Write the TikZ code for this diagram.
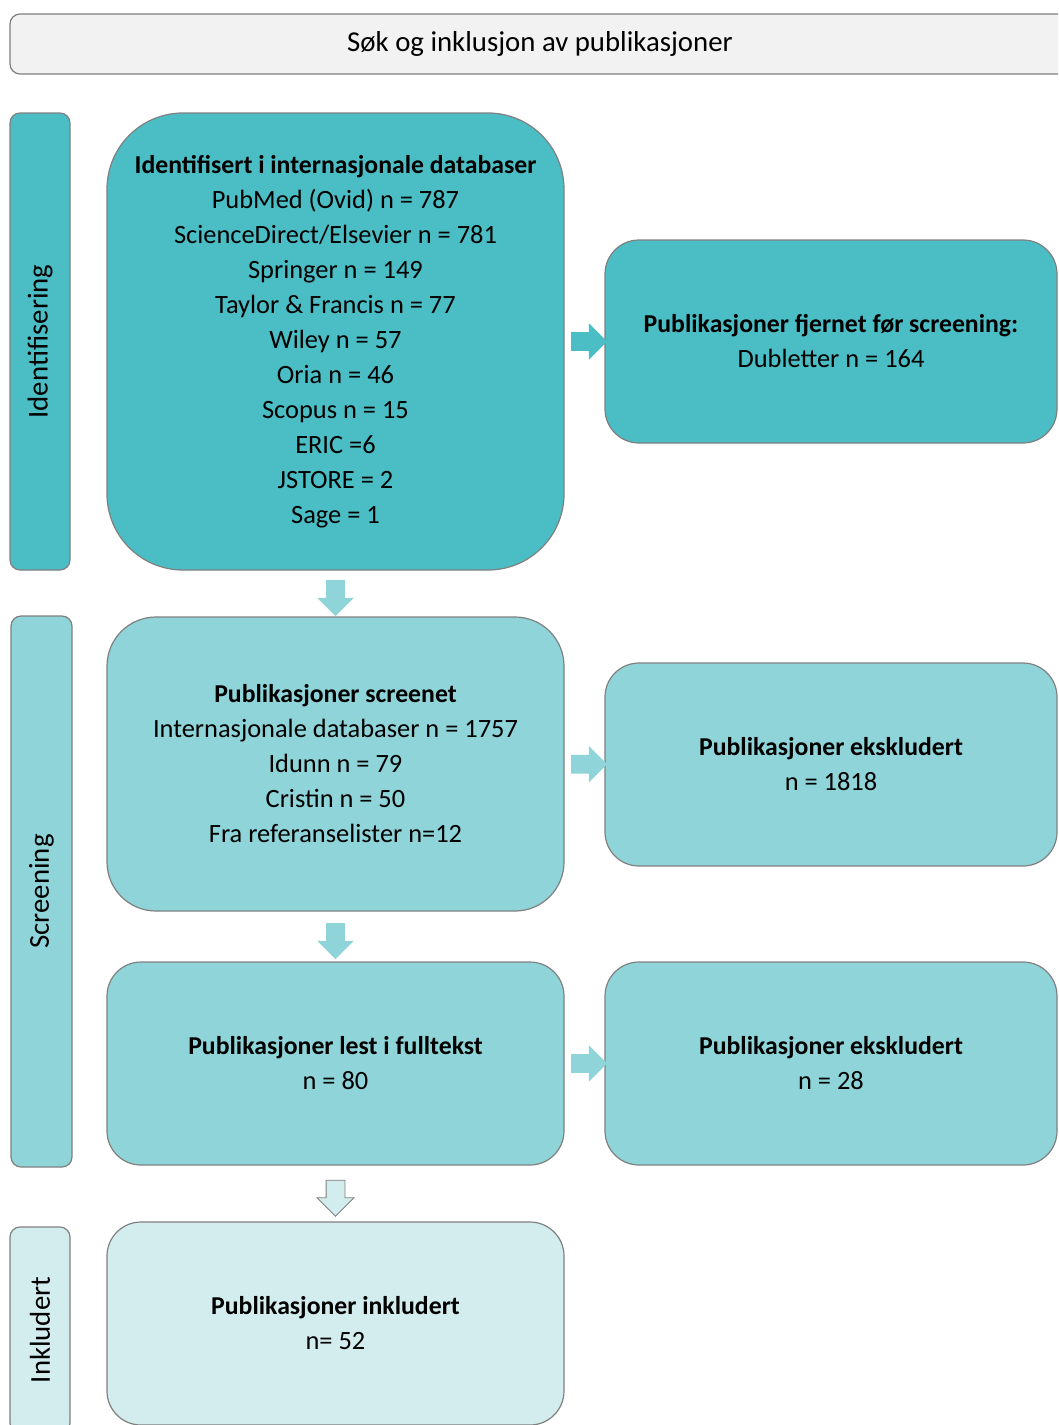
\documentclass[tikz,border=0pt]{standalone}
\usepackage{fontspec}
\setmainfont{Carlito}
\usepackage{tikz}
\usepackage{xcolor}
\usetikzlibrary{shapes.arrows,calc}

\definecolor{tealA}{RGB}{75,189,196}
\definecolor{tealB}{RGB}{142,212,216}
\definecolor{tealC}{RGB}{211,236,237}
\definecolor{headgray}{RGB}{242,242,242}
\definecolor{edgegray}{RGB}{128,128,128}

\newcommand{\tittelfont}[1]{{\fontsize{19.3}{26.25}\selectfont\bfseries #1}}

\tikzset{
	boks/.style={draw=edgegray, line width=0.9pt, align=center, inner sep=0pt, font=\fontsize{19.8}{26.25}\selectfont},
	sideboks/.style={boks, rotate=90, rounded corners=7.5pt, font=\fontsize{21.6}{26.25}\selectfont},
	pilh/.style={single arrow, inner sep=6.75pt, single arrow head extend=6.75pt, minimum height=27pt},
	pilned/.style={pilh, shape border rotate=270},
}

\begin{document}
\begin{tikzpicture}[x=0.75pt,y=0.75pt,yscale=-1,xscale=1]
				\useasboundingbox (0,0) rectangle (1058,1425);
				\clip (0,0) rectangle (1058,1425);
				% overskrift
				\draw (540,44) node [boks, fill=headgray, rounded corners=7.5pt, minimum width=795pt, minimum height=45pt, font=\fontsize{21.6}{26.25}\selectfont] (tittel) {Søk og inklusjon av publikasjoner};
				% faser
				\draw (40,341.5) node [sideboks, fill=tealA, minimum width=342.75pt, minimum height=45pt] (fase1) {Identifisering};
				\draw (41.5,891.5) node [sideboks, fill=tealB, minimum width=413.25pt, minimum height=45.75pt] (fase2) {Screening};
				\draw (40,1330) node [sideboks, fill=tealC, minimum width=154.5pt, minimum height=45pt] (fase3) {Inkludert};
				% bokser
				\draw (335.5,341.5) node [boks, fill=tealA, rounded corners=57pt, minimum width=342.75pt, minimum height=342.75pt] (ident) {\tittelfont{Identifisert i internasjonale databaser}\\PubMed (Ovid) n = 787\\ScienceDirect/Elsevier n = 781\\Springer n = 149\\Taylor \& Francis n = 77\\Wiley n = 57\\Oria n = 46\\Scopus n = 15\\ERIC =6\\JSTORE = 2\\Sage = 1};
				\draw (831,341.5) node [boks, fill=tealA, rounded corners=25.5pt, minimum width=339pt, minimum height=152.25pt] (fjernet) {\tittelfont{Publikasjoner fjernet før screening:}\\Dubletter n = 164};
				\draw (335.5,764) node [boks, fill=tealB, rounded corners=36.75pt, minimum width=342.75pt, minimum height=220.5pt] (screenet) {\tittelfont{Publikasjoner screenet}\\Internasjonale databaser n = 1757\\Idunn n = 79\\Cristin n = 50\\Fra referanselister n=12};
				\draw (831,764.5) node [boks, fill=tealB, rounded corners=25.5pt, minimum width=339pt, minimum height=152.25pt] (ekskl1) {\tittelfont{Publikasjoner ekskludert}\\n = 1818};
				\draw (335.5,1063.5) node [boks, fill=tealB, rounded corners=25.5pt, minimum width=342.75pt, minimum height=152.25pt] (fulltekst) {\tittelfont{Publikasjoner lest i fulltekst}\\n = 80};
				\draw (831,1063.5) node [boks, fill=tealB, rounded corners=25.5pt, minimum width=339pt, minimum height=152.25pt] (ekskl2) {\tittelfont{Publikasjoner ekskludert}\\n = 28};
				\draw (335.5,1323.5) node [boks, fill=tealC, rounded corners=25.5pt, minimum width=342.75pt, minimum height=152.25pt] (inkl) {\tittelfont{Publikasjoner inkludert}\\n= 52};
				% piler
				\node [pilh, fill=tealA] (pil1) at ($(ident.east)!0.5!(fjernet.west)$) {};
				\node [pilned, fill=tealB] (pil2) at ($(ident.south)!0.5!(screenet.north)$) {};
				\node [pilh, fill=tealB] (pil3) at ($(screenet.east)!0.5!(ekskl1.west)$) {};
				\node [pilned, fill=tealB] (pil4) at ($(screenet.south)!0.5!(fulltekst.north)$) {};
				\node [pilh, fill=tealB] (pil5) at ($(fulltekst.east)!0.5!(ekskl2.west)$) {};
				\node [pilned, fill=tealC, draw=edgegray, line width=0.6pt] (pil6) at ($(fulltekst.south)!0.5!(inkl.north)$) {};
\end{tikzpicture}
\end{document}
